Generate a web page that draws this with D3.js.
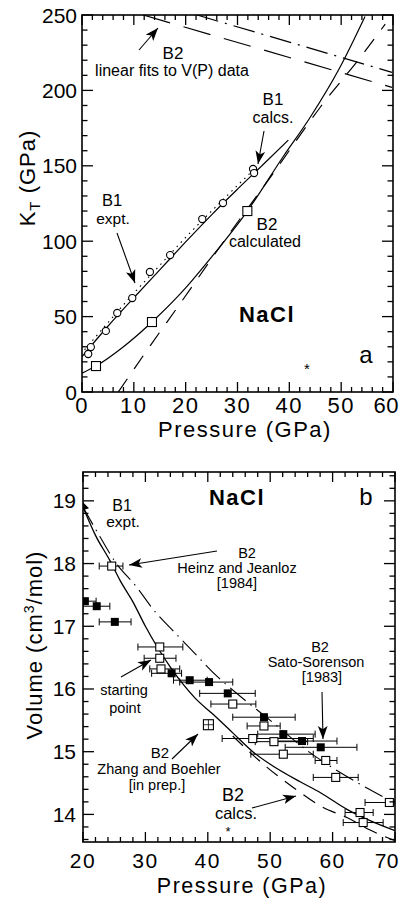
<!DOCTYPE html>
<html>
<head>
<meta charset="utf-8">
<script src="https://cdn.jsdelivr.net/npm/d3@7"></script>
<style>
  html, body { margin: 0; padding: 0; background: #fff; }
  svg { display: block; font-family: "Liberation Sans", Arial, Helvetica, sans-serif; }
</style>
</head>
<body>
<svg id="chart" width="406" height="898"></svg>
<script>
// ---------------- DATA: panel a (K_T vs P) ----------------
const aXTicks = [0, 10, 20, 30, 40, 50, 60];
const aYTicks = [0, 50, 100, 150, 200, 250];
// B1 experimental points (open circles)  [P, K]
const b1ExptP = [1.2, 1.7, 4.6, 6.8, 9.7, 13.1, 17.0, 23.2, 27.2, 33.0, 33.2];
const b1ExptK = [25.2, 29.8, 40.5, 52.4, 62.3, 79.6, 90.8, 114.7, 125.3, 147.9, 145.2];
// B1 calculated curve (solid)
const b1CalcP = [0, 5, 10, 15, 20, 25, 30, 35, 39.8];
const b1CalcK = [23.5, 43.6, 62.5, 81, 99.5, 117.5, 134.5, 151, 167];
// B1 experimental fit (dotted)
const b1FitP = [0.5, 5, 10, 15, 20, 25, 30, 33];
const b1FitK = [28, 46, 65.5, 84, 102.5, 120, 137, 147];
// B2 calculated curve (solid) and its points (open squares)
const b2CalcP = [0, 2.7, 8, 13.5, 20, 25, 31.9, 38.8, 44, 49.8, 54.6];
const b2CalcK = [12.5, 17.2, 30, 46.4, 69, 89.5, 120, 156, 182, 215.5, 249];
const b2PtsP = [2.7, 13.5, 31.9];
const b2PtsK = [17.2, 46.4, 120];
// B2 second calculation (dashed, rising)
const b2DashP = [7, 12, 19, 28, 37.3, 46, 54.3, 58.5];
const b2DashK = [0, 25, 59, 103, 147, 189, 224.6, 244];
// B2 linear fits to V(P) data (descending)
const fitLongP = [11.8, 59.8];
const fitLongK = [250, 202];
const fitDashDotP = [22.2, 59.8];
const fitDashDotK = [250, 212];

// ---------------- DATA: panel b (V vs P) ----------------
const bXTicks = [20, 30, 40, 50, 60, 70];
const bYTicks = [14, 15, 16, 17, 18, 19];
// B2 calcs (solid)
const calcSolidP = [20, 22, 24.3, 26, 28, 30, 31.9, 34, 36, 38, 40.8, 44, 47.2, 50, 54.8, 58, 62.3, 66, 70];
const calcSolidV = [18.9, 18.45, 18.05, 17.72, 17.39, 17.0, 16.67, 16.35, 16.08, 15.85, 15.6, 15.3, 15.0, 14.8, 14.52, 14.35, 14.08, 13.9, 13.74];
// B2 calcs (dashed, second)
const calcDashP = [44, 49.5, 53.7, 58.5, 62.3, 66, 70];
const calcDashV = [15.25, 14.75, 14.43, 14.11, 13.95, 13.75, 13.58];
// B1 expt fit (dash-dot)
const dashDotP = [20, 22.7, 25, 28.8, 31, 35.1, 37.6, 41.5, 45, 50, 55.9, 60.7, 65.5, 70];
const dashDotV = [18.9, 18.43, 18.05, 17.6, 17.3, 16.86, 16.6, 16.2, 15.9, 15.5, 15.02, 14.7, 14.42, 14.18];
// Heinz & Jeanloz (open squares): P, V, Pmin, Pmax
const hjP =    [24.6, 32.3, 32.3, 32.5, 44.0, 49.0, 47.2, 50.6, 52.1, 58.9, 60.5, 69.1, 64.4, 64.9];
const hjV =    [17.96, 16.67, 16.49, 16.32, 15.76, 15.41, 15.21, 15.16, 14.96, 14.86, 14.59, 14.19, 14.03, 13.87];
const hjPmin = [22.6, 28.8, 29.8, 30.7, 40.5, 46.3, 42.3, 47.6, 46.9, 57.2, 56.9, 65.2, 62.0, 61.7];
const hjPmax = [26.4, 36.0, 34.9, 35.5, 47.7, 51.6, 56.9, 56.0, 56.9, 60.7, 64.1, 70.0, 66.5, 68.1];
// Sato-Sorenson (filled squares)
const ssP =    [20.3, 22.2, 25.1, 34.2, 37.1, 40.2, 43.2, 49.0, 52.1, 55.1, 58.1];
const ssV =    [17.40, 17.32, 17.07, 16.25, 16.14, 16.11, 15.93, 15.55, 15.28, 15.17, 15.07];
const ssPmin = [20.0, 20.0, 22.6, 31.0, 34.5, 35.5, 38.7, 44.0, 48.0, 50.0, 52.4];
const ssPmax = [22.1, 24.3, 27.7, 35.8, 39.9, 44.0, 47.6, 54.0, 57.2, 60.7, 63.9];
// Zhang & Boehler
const zbP = [40.1];
const zbV = [15.43];

// ---------------- DRAWING ----------------
const svg = d3.select("#chart");
const defs = svg.append("defs");
defs.append("marker").attr("id", "arr")
  .attr("viewBox", "0 -5 12 10").attr("refX", 12).attr("refY", 0)
  .attr("markerWidth", 13).attr("markerHeight", 11).attr("markerUnits", "userSpaceOnUse")
  .attr("orient", "auto")
  .append("path").attr("d", "M0,-4.5 L12,0 L0,4.5 L3,0 Z").attr("fill", "#000");

function zip(a, b) { return a.map((v, i) => [v, b[i]]); }

function panel(cfg) {
  const x = d3.scaleLinear().domain(cfg.xd).range([cfg.x0, cfg.x1]);
  const y = d3.scaleLinear().domain(cfg.yd).range([cfg.y1, cfg.y0]);
  const g = svg.append("g");
  const clipId = "clip" + cfg.id;
  defs.append("clipPath").attr("id", clipId).append("rect")
    .attr("x", cfg.x0).attr("y", cfg.y0).attr("width", cfg.x1 - cfg.x0).attr("height", cfg.y1 - cfg.y0);
  const plot = g.append("g").attr("clip-path", `url(#${clipId})`);

  // ticks on all four sides, inward
  const tk = g.append("g").attr("stroke", "#000").attr("stroke-width", 1.3);
  cfg.xMinor.forEach(v => {
    const major = cfg.xMajor.includes(v);
    const L = major ? 10 : 5;
    tk.append("line").attr("x1", x(v)).attr("x2", x(v)).attr("y1", cfg.y1).attr("y2", cfg.y1 - L);
    tk.append("line").attr("x1", x(v)).attr("x2", x(v)).attr("y1", cfg.y0).attr("y2", cfg.y0 + L);
  });
  cfg.yMinor.forEach(v => {
    const major = cfg.yMajor.some(m => Math.abs(m - v) < 1e-6);
    const L = major ? 11 : 5.5;
    tk.append("line").attr("y1", y(v)).attr("y2", y(v)).attr("x1", cfg.x0).attr("x2", cfg.x0 + L);
    tk.append("line").attr("y1", y(v)).attr("y2", y(v)).attr("x1", cfg.x1).attr("x2", cfg.x1 - L);
  });
  // frame
  g.append("rect").attr("x", cfg.x0).attr("y", cfg.y0)
    .attr("width", cfg.x1 - cfg.x0).attr("height", cfg.y1 - cfg.y0)
    .attr("fill", "none").attr("stroke", "#000").attr("stroke-width", 1.6);

  // tick labels (last one pulled in so it stays inside the page)
  cfg.xMajor.forEach((v, i) => {
    const last = i === cfg.xMajor.length - 1;
    g.append("text").attr("x", last ? 399 : x(v)).attr("y", cfg.xLabelY)
      .attr("text-anchor", last ? "end" : "middle")
      .attr("font-size", cfg.xFont).attr("letter-spacing", last ? 0.5 : 1.5).text(v);
  });
  cfg.yMajor.forEach(v => {
    g.append("text").attr("x", cfg.yLabelX).attr("y", y(v)).attr("text-anchor", "end")
      .attr("dominant-baseline", "central").attr("font-size", 21).text(v);
  });
  return { x, y, g, plot };
}

// ---------- Panel a ----------
const A = panel({
  id: "a", x0: 82, x1: 393, y0: 15, y1: 392, xd: [0, 60], yd: [0, 250],
  xMajor: aXTicks, yMajor: aYTicks,
  xMinor: d3.range(0, 60.001, 2), yMinor: d3.range(0, 250.001, 10),
  xLabelY: 413, yLabelX: 77, xFont: 22
});
const lineA = d3.line().x(d => A.x(d[0])).y(d => A.y(d[1])).curve(d3.curveMonotoneX);
const lineAL = d3.line().x(d => A.x(d[0])).y(d => A.y(d[1]));

A.plot.append("path").attr("d", lineA(zip(b1FitP, b1FitK))).attr("fill", "none")
  .attr("stroke", "#000").attr("stroke-width", 1.1).attr("stroke-dasharray", "1.5,4.5");
A.plot.append("path").attr("d", lineA(zip(b1CalcP, b1CalcK))).attr("fill", "none")
  .attr("stroke", "#000").attr("stroke-width", 1.2);
A.plot.append("path").attr("d", lineA(zip(b2CalcP, b2CalcK))).attr("fill", "none")
  .attr("stroke", "#000").attr("stroke-width", 1.2);
A.plot.append("path").attr("d", lineA(zip(b2DashP, b2DashK))).attr("fill", "none")
  .attr("stroke", "#000").attr("stroke-width", 1.2).attr("stroke-dasharray", "16,12");
A.plot.append("path").attr("d", lineAL(zip(fitLongP, fitLongK))).attr("fill", "none")
  .attr("stroke", "#000").attr("stroke-width", 1.2).attr("stroke-dasharray", "28,14");
A.plot.append("path").attr("d", lineAL(zip(fitDashDotP, fitDashDotK))).attr("fill", "none")
  .attr("stroke", "#000").attr("stroke-width", 1.2).attr("stroke-dasharray", "22,7,2,7");

A.plot.selectAll("circle.b1").data(zip(b1ExptP, b1ExptK)).enter().append("circle")
  .attr("cx", d => A.x(d[0])).attr("cy", d => A.y(d[1])).attr("r", 3.6)
  .attr("fill", "#fff").attr("stroke", "#000").attr("stroke-width", 1.1);
A.plot.selectAll("rect.b2").data(zip(b2PtsP, b2PtsK)).enter().append("rect")
  .attr("x", d => A.x(d[0]) - 4.5).attr("y", d => A.y(d[1]) - 4.5).attr("width", 9).attr("height", 9)
  .attr("fill", "#fff").attr("stroke", "#000").attr("stroke-width", 1.1);

function txt(g, x, y, s, size, opts = {}) {
  const t = g.append("text").attr("x", x).attr("y", y).attr("text-anchor", opts.anchor || "middle")
    .attr("font-size", size).text(s);
  if (opts.bold) t.attr("font-weight", "bold");
  if (opts.ls) t.attr("letter-spacing", opts.ls);
  return t;
}
function arrow(g, x1, y1, x2, y2) {
  g.append("line").attr("x1", x1).attr("y1", y1).attr("x2", x2).attr("y2", y2)
    .attr("stroke", "#000").attr("stroke-width", 1.1).attr("marker-end", "url(#arr)");
}

txt(A.g, 173, 59, "B2", 17);
txt(A.g, 172, 76, "linear fits to V(P) data", 16);
arrow(A.g, 139, 50, 158, 28);
txt(A.g, 273, 105, "B1", 17);
txt(A.g, 273, 123, "calcs.", 16);
arrow(A.g, 264, 131, 258, 164);
txt(A.g, 112, 206, "B1", 16.5);
txt(A.g, 113, 224, "expt.", 15.5);
arrow(A.g, 117, 233, 135, 283);
txt(A.g, 267, 230, "B2", 17);
txt(A.g, 265, 247, "calculated", 16);
txt(A.g, 267, 322, "NaCl", 22, { bold: true, ls: 1.5 });
txt(A.g, 366, 363, "a", 24);
txt(A.g, 307, 374, "*", 15);
txt(A.g, 245, 437, "Pressure (GPa)", 22, { ls: 1.5 });
// y title with subscript
const ya = A.g.append("text").attr("transform", "translate(35,178) rotate(-90)")
  .attr("text-anchor", "middle").attr("font-size", 22).attr("letter-spacing", 1);
ya.append("tspan").text("K");
ya.append("tspan").attr("font-size", 15).attr("dy", 5).text("T");
ya.append("tspan").attr("dy", -5).text(" (GPa)");

// ---------- Panel b ----------
const B = panel({
  id: "b", x0: 83, x1: 395, y0: 472, y1: 842, xd: [20, 70], yd: [13.56, 19.46],
  xMajor: bXTicks, yMajor: bYTicks,
  xMinor: d3.range(20, 70.001, 2), yMinor: d3.range(13.6, 19.45, 0.2).map(v => Math.round(v * 10) / 10),
  xLabelY: 868, yLabelX: 76, xFont: 21
});
const lineB = d3.line().x(d => B.x(d[0])).y(d => B.y(d[1])).curve(d3.curveMonotoneX);

B.plot.append("path").attr("d", lineB(zip(dashDotP, dashDotV))).attr("fill", "none")
  .attr("stroke", "#000").attr("stroke-width", 1.1).attr("stroke-dasharray", "20,6,1.5,6");
B.plot.append("path").attr("d", lineB(zip(calcSolidP, calcSolidV))).attr("fill", "none")
  .attr("stroke", "#000").attr("stroke-width", 1.3);
B.plot.append("path").attr("d", lineB(zip(calcDashP, calcDashV))).attr("fill", "none")
  .attr("stroke", "#000").attr("stroke-width", 1.2).attr("stroke-dasharray", "14,9");

function errBars(g, P, V, Pmin, Pmax) {
  P.forEach((p, i) => {
    const yy = B.y(V[i]);
    g.append("line").attr("x1", B.x(Pmin[i])).attr("x2", B.x(Pmax[i])).attr("y1", yy).attr("y2", yy)
      .attr("stroke", "#000").attr("stroke-width", 1);
    [Pmin[i], Pmax[i]].forEach(e => g.append("line").attr("x1", B.x(e)).attr("x2", B.x(e))
      .attr("y1", yy - 3.5).attr("y2", yy + 3.5).attr("stroke", "#000").attr("stroke-width", 1));
  });
}
errBars(B.plot, hjP, hjV, hjPmin, hjPmax);
errBars(B.plot, ssP, ssV, ssPmin, ssPmax);

B.plot.selectAll("rect.hj").data(zip(hjP, hjV)).enter().append("rect")
  .attr("x", d => B.x(d[0]) - 4).attr("y", d => B.y(d[1]) - 4).attr("width", 8).attr("height", 8)
  .attr("fill", "#fff").attr("stroke", "#000").attr("stroke-width", 1.1);
B.plot.selectAll("rect.ss").data(zip(ssP, ssV)).enter().append("rect")
  .attr("x", d => B.x(d[0]) - 4).attr("y", d => B.y(d[1]) - 4).attr("width", 8).attr("height", 8)
  .attr("fill", "#000");
// Zhang & Boehler: square with cross
zip(zbP, zbV).forEach(d => {
  const cx = B.x(d[0]), cy = B.y(d[1]);
  B.plot.append("rect").attr("x", cx - 5).attr("y", cy - 5).attr("width", 10).attr("height", 10)
    .attr("fill", "#fff").attr("stroke", "#000").attr("stroke-width", 1.1);
  B.plot.append("line").attr("x1", cx - 5).attr("x2", cx + 5).attr("y1", cy).attr("y2", cy).attr("stroke", "#000").attr("stroke-width", 0.8);
  B.plot.append("line").attr("x1", cx).attr("x2", cx).attr("y1", cy - 5).attr("y2", cy + 5).attr("stroke", "#000").attr("stroke-width", 0.8);
});
// B1 starting point marker
B.plot.append("path").attr("d", `M${B.x(20)},${B.y(18.93) - 3} l6,6 l-6,2 z`).attr("fill", "#000");

txt(B.g, 237, 505, "NaCl", 22, { bold: true, ls: 1.5 });
txt(B.g, 366, 505, "b", 24);
txt(B.g, 122, 511, "B1", 16);
txt(B.g, 123, 527, "expt.", 15.5);
txt(B.g, 247, 558, "B2", 14.5);
txt(B.g, 237, 573, "Heinz and Jeanloz", 14.5);
txt(B.g, 237, 588, "[1984]", 14.5);
arrow(B.g, 217, 551, 129, 565);
txt(B.g, 320, 652, "B2", 14.5);
txt(B.g, 316, 667, "Sato-Sorenson", 14.5);
txt(B.g, 322, 682, "[1983]", 14.5);
arrow(B.g, 322, 692, 323, 739);
txt(B.g, 124, 695, "starting", 14.5);
txt(B.g, 125, 713, "point", 14.5);
arrow(B.g, 121, 677, 151, 660);
txt(B.g, 160, 758, "B2", 15);
txt(B.g, 159, 774, "Zhang and Boehler", 14.5);
txt(B.g, 157, 790, "[in prep.]", 14.5);
arrow(B.g, 172, 759, 198, 734);
txt(B.g, 233, 801, "B2", 18);
txt(B.g, 236, 819, "calcs.", 16.5);
arrow(B.g, 252, 808, 296, 796);
txt(B.g, 228, 836, "*", 13);
txt(B.g, 242, 893, "Pressure (GPa)", 21.5, { ls: 1.5 });
const yb = B.g.append("text").attr("transform", "translate(42,645) rotate(-90)")
  .attr("text-anchor", "middle").attr("font-size", 22).attr("letter-spacing", 1);
yb.append("tspan").text("Volume (cm");
yb.append("tspan").attr("font-size", 14).attr("dy", -8).text("3");
yb.append("tspan").attr("dy", 8).text("/mol)");
</script>
</body>
</html>
